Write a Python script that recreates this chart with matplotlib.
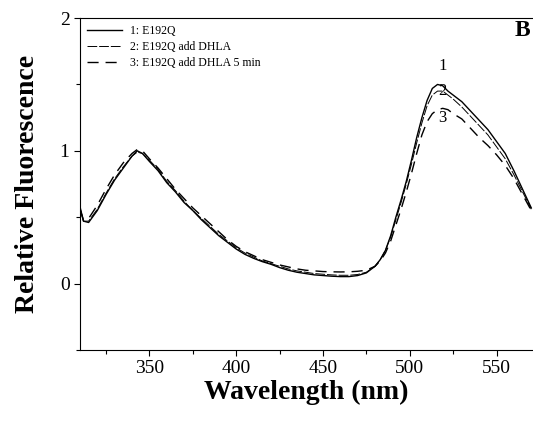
import matplotlib
matplotlib.use("Agg")
import matplotlib.pyplot as plt
from matplotlib.ticker import MultipleLocator

# wavelength (nm) and the three emission spectra
wavelength = [310, 312, 315, 320, 325, 330, 335, 340, 343, 346, 350, 355, 360,
              365, 370, 375, 380, 385, 390, 395, 400, 405, 410, 415, 420, 425,
              430, 435, 440, 445, 450, 455, 460, 465, 470, 475, 480, 483, 486,
              489, 492, 495, 498, 501, 504, 507, 510, 513, 516, 519, 522, 525,
              530, 535, 540, 545, 550, 555, 560, 565, 570]

e192q = [0.58, 0.47, 0.46, 0.55, 0.67, 0.78, 0.87, 0.96, 1.00, 0.98, 0.92, 0.85,
         0.76, 0.69, 0.61, 0.55, 0.48, 0.42, 0.36, 0.31, 0.26, 0.22, 0.19, 0.165,
         0.145, 0.12, 0.10, 0.085, 0.075, 0.065, 0.06, 0.055, 0.052, 0.052, 0.06,
         0.08, 0.13, 0.18, 0.25, 0.36, 0.50, 0.63, 0.77, 0.93, 1.10, 1.25, 1.38,
         1.47, 1.50, 1.49, 1.45, 1.42, 1.37, 1.30, 1.23, 1.16, 1.07, 0.98, 0.85,
         0.71, 0.57]

e192q_dhla = [0.57, 0.47, 0.47, 0.56, 0.68, 0.79, 0.88, 0.96, 0.99, 0.98, 0.93,
              0.86, 0.77, 0.70, 0.62, 0.55, 0.49, 0.43, 0.37, 0.32, 0.27, 0.23,
              0.20, 0.17, 0.15, 0.13, 0.11, 0.095, 0.085, 0.075, 0.07, 0.065,
              0.062, 0.062, 0.068, 0.085, 0.13, 0.18, 0.25, 0.35, 0.48, 0.61,
              0.75, 0.90, 1.06, 1.21, 1.34, 1.42, 1.45, 1.45, 1.42, 1.39, 1.33,
              1.26, 1.19, 1.12, 1.03, 0.94, 0.82, 0.69, 0.56]

e192q_dhla_5min = [0.56, 0.48, 0.49, 0.59, 0.71, 0.82, 0.91, 0.98, 1.01, 1.00,
                   0.94, 0.87, 0.79, 0.71, 0.64, 0.57, 0.51, 0.45, 0.39, 0.33,
                   0.28, 0.24, 0.21, 0.18, 0.16, 0.14, 0.125, 0.11, 0.10, 0.095,
                   0.09, 0.088, 0.087, 0.088, 0.092, 0.10, 0.13, 0.17, 0.23,
                   0.32, 0.44, 0.56, 0.69, 0.83, 0.98, 1.12, 1.22, 1.28, 1.31,
                   1.32, 1.31, 1.28, 1.24, 1.17, 1.10, 1.04, 0.97, 0.89, 0.79,
                   0.67, 0.55]

labels = ["1: E192Q", "2: E192Q add DHLA", "3: E192Q add DHLA 5 min"]

plt.rcParams["font.family"] = ["Liberation Serif", "DejaVu Serif"]

fig = plt.figure(figsize=(5.33, 4.21), dpi=100)
ax = fig.add_axes([0.150, 0.169, 0.850, 0.788])

ax.plot(wavelength, e192q, color="black", lw=1.0, label=labels[0])
ax.plot(wavelength, e192q_dhla, color="black", lw=0.7,
        linestyle=(0, (10, 2)), label=labels[1])
ax.plot(wavelength, e192q_dhla_5min, color="black", lw=1.0,
        linestyle=(0, (8, 5)), label=labels[2])

ax.set_xlim(310, 571)
ax.set_ylim(-0.5, 2)
ax.xaxis.set_major_locator(MultipleLocator(50))
ax.xaxis.set_minor_locator(MultipleLocator(25))
ax.yaxis.set_major_locator(MultipleLocator(1))
ax.yaxis.set_minor_locator(MultipleLocator(0.5))
ax.tick_params(which="both", direction="out", labelsize=14, width=0.8)
ax.tick_params(which="major", length=4)
ax.tick_params(which="minor", length=3)
ax.spines["right"].set_visible(False)

ax.set_xlabel("Wavelength (nm)", fontsize=20, fontweight="bold", labelpad=2)
ax.set_ylabel("Relative Fluorescence", fontsize=20, fontweight="bold", labelpad=14)

leg = ax.legend(loc="upper left", fontsize=8.5, frameon=False, handlelength=3,
                borderaxespad=0.2, labelspacing=0.35, handletextpad=0.6)

ax.text(0.995, 0.995, "B", transform=ax.transAxes, ha="right", va="top",
        fontsize=17, fontweight="bold")

peak_labels = ["1", "2", "3"]
peak_y = [1.64, 1.45, 1.25]
for lab, yv in zip(peak_labels, peak_y):
    ax.text(519, yv, lab, ha="center", va="center", fontsize=12)

fig.savefig("out.png", dpi=100)
